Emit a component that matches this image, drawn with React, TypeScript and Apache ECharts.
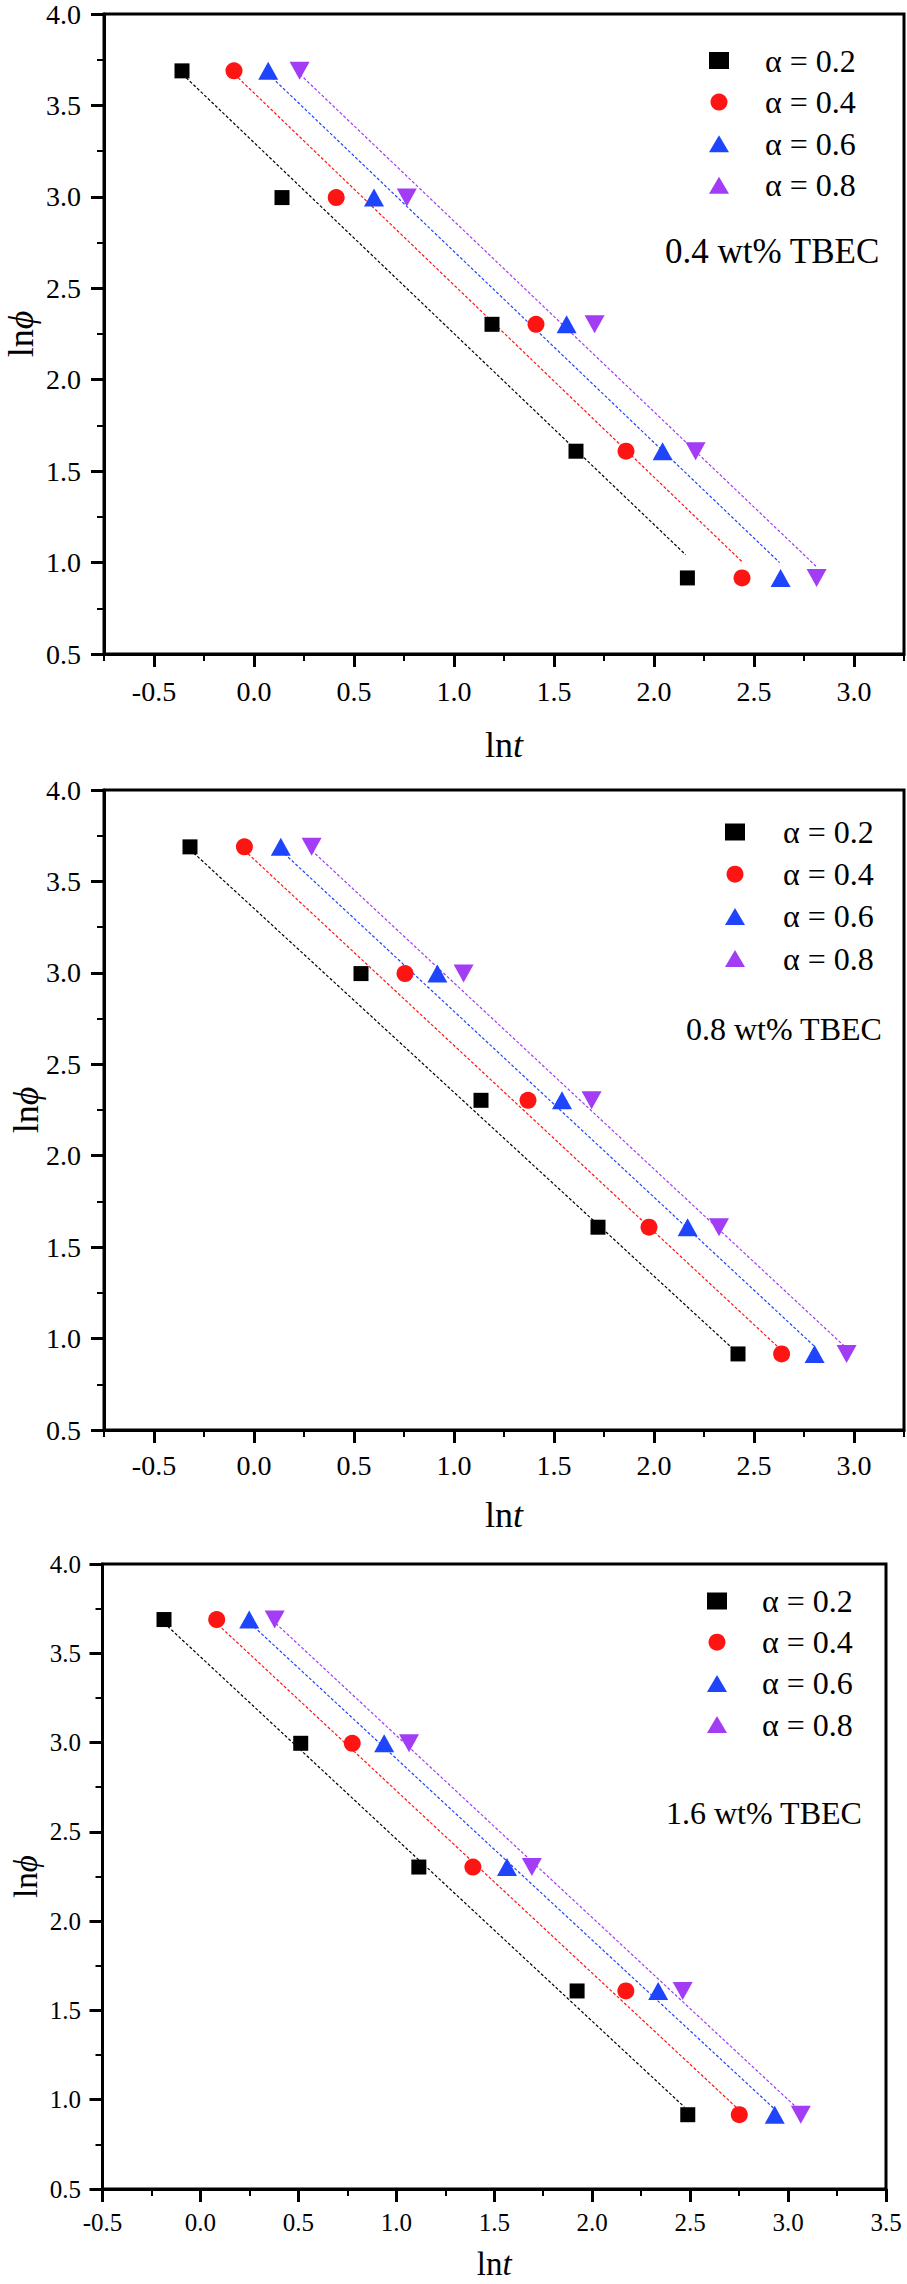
import React, { useEffect, useRef } from "react";
import * as echarts from "echarts";

const FONT = "Liberation Serif, Times New Roman, Times, serif";

// ln(phi) levels (heating rates 2.5, 5, 10, 20, 40)
const lnPhi = [3.689, 2.996, 2.303, 1.609, 0.916];
const seriesNames = ["α = 0.2", "α = 0.4", "α = 0.6", "α = 0.8"];
const panelTitles = ["0.4 wt% TBEC", "0.8 wt% TBEC", "1.6 wt% TBEC"];

// ln t values, one row per alpha (0.2, 0.4, 0.6, 0.8), matching lnPhi order
const lnT04 = [
  [-0.36, 0.14, 1.19, 1.61, 2.167],
  [-0.1, 0.411, 1.41, 1.86, 2.44],
  [0.071, 0.6, 1.563, 2.043, 2.633],
  [0.228, 0.764, 1.703, 2.208, 2.813],
];
const lnT08 = [
  [-0.32, 0.535, 1.135, 1.72, 2.42],
  [-0.048, 0.755, 1.37, 1.975, 2.638],
  [0.134, 0.917, 1.54, 2.168, 2.803],
  [0.288, 1.048, 1.688, 2.325, 2.963],
];
const lnT16 = [
  [-0.186, 0.512, 1.115, 1.923, 2.488],
  [0.083, 0.775, 1.391, 2.172, 2.751],
  [0.249, 0.938, 1.565, 2.337, 2.932],
  [0.379, 1.065, 1.692, 2.462, 3.065],
];

// dashed linear fits: [x0, y0, x1, y1]
const fit04 = [
  [-0.357, 3.67, 2.158, 1.043],
  [-0.097, 3.67, 2.438, 1.007],
  [0.073, 3.67, 2.628, 1.0],
  [0.23, 3.67, 2.81, 0.98],
];
const fit08 = [
  [-0.32, 3.674, 2.389, 0.95],
  [-0.048, 3.67, 2.62, 0.954],
  [0.134, 3.67, 2.8, 0.96],
  [0.288, 3.67, 2.97, 0.94],
];
const fit16 = [
  [-0.186, 3.67, 2.47, 0.96],
  [0.09, 3.66, 2.74, 0.953],
  [0.255, 3.667, 2.926, 0.953],
  [0.385, 3.667, 3.065, 0.934],
];

// tick labels of the x axes of the first two panels
const xTickLabels12 = [-0.5, 0, 0.5, 1, 1.5, 2, 2.5, 3];

const colors = ["#000000", "#ff1414", "#1f45fc", "#a23cf5"];
const symbols = ["rect", "circle", "triangle", "triangle"];
const symbolSizes: any[] = [15, 17, [20, 18], [20, 18]];
const symbolRotates = [0, 0, 0, 180];

const panels = [
  {
    lnT: lnT04, fit: fit04, title: panelTitles[0],
    grid: { left: 104, top: 14, width: 800, height: 640 },
    xMin: -0.75, xMax: 3.25, quarter: true,
    tickFont: 28, xLabelMargin: 23.4, yLabelMargin: 23,
    nameFont: 36, nameLH: 36, xNameGap: 73, yNameGap: 65,
    legLeft: 709, legTop: 44.5, legGap: 9.6, legPad: 31,
    annX: 665, annY: 251.7, annFont: 35,
  },
  {
    lnT: lnT08, fit: fit08, title: panelTitles[1],
    grid: { left: 104, top: 790, width: 800, height: 640 },
    xMin: -0.75, xMax: 3.25, quarter: true,
    tickFont: 28, xLabelMargin: 21.6, yLabelMargin: 23,
    nameFont: 36, nameLH: 36, xNameGap: 66.7, yNameGap: 60,
    legLeft: 725, legTop: 816, legGap: 10.2, legPad: 33,
    annX: 686, annY: 1029.4, annFont: 32,
  },
  {
    lnT: lnT16, fit: fit16, title: panelTitles[2],
    grid: { left: 102.5, top: 1564, width: 783.5, height: 625 },
    xMin: -0.5, xMax: 3.5, quarter: false,
    tickFont: 25, xLabelMargin: 20.5, yLabelMargin: 21.5,
    nameFont: 33, nameLH: 26, xNameGap: 61.5, yNameGap: 63.5,
    legLeft: 707, legTop: 1585, legGap: 9.2, legPad: 30,
    annX: 666, annY: 1812.7, annFont: 32,
  },
];

function buildOption() {
  const grid: any[] = [];
  const xAxis: any[] = [];
  const yAxis: any[] = [];
  const series: any[] = [];
  const legend: any[] = [];
  const graphic: any[] = [];

  panels.forEach((P, p) => {
    grid.push({
      ...P.grid,
      show: true,
      borderColor: "#000",
      borderWidth: 3,
      backgroundColor: "transparent",
      containLabel: false,
      outerBoundsMode: "none",
    });
    const labelStyle = {
      color: "#000",
      fontFamily: FONT,
      fontSize: P.tickFont,
      lineHeight: P.tickFont,
      formatter: (v: number) => v.toFixed(1),
    };
    const nameStyle = {
      color: "#000",
      fontFamily: FONT,
      fontSize: P.nameFont,
      lineHeight: P.nameLH,
      rich: {
        i: { fontStyle: "italic", fontFamily: FONT, fontSize: P.nameFont, lineHeight: P.nameLH, color: "#000" },
      },
    };
    const xIdx = xAxis.length;
    if (P.quarter) {
      xAxis.push({
        type: "value", gridIndex: p, position: "bottom",
        min: P.xMin, max: P.xMax, interval: 0.25,
        axisLine: { show: true, onZero: false, lineStyle: { color: "#000", width: 3 } },
        axisTick: { show: true, inside: false, length: 7, lineStyle: { color: "#000", width: 2 } },
        axisLabel: { ...labelStyle, margin: P.xLabelMargin, customValues: xTickLabels12 },
        splitLine: { show: false },
        name: "ln{i|t}", nameLocation: "middle", nameGap: P.xNameGap, nameTextStyle: nameStyle,
        nameMoveOverlap: false,
      });
      xAxis.push({
        type: "value", gridIndex: p, position: "bottom",
        min: P.xMin, max: P.xMax, interval: 0.25,
        axisLine: { show: false, onZero: false },
        axisTick: { show: true, inside: false, length: 13, customValues: xTickLabels12, lineStyle: { color: "#000", width: 3 } },
        axisLabel: { show: false },
        splitLine: { show: false },
      });
    } else {
      xAxis.push({
        type: "value", gridIndex: p, position: "bottom",
        min: P.xMin, max: P.xMax, interval: 0.5,
        axisLine: { show: true, onZero: false, lineStyle: { color: "#000", width: 3 } },
        axisTick: { show: true, inside: false, length: 13, lineStyle: { color: "#000", width: 3 } },
        minorTick: { show: true, splitNumber: 2, length: 7, lineStyle: { color: "#000", width: 2 } },
        axisLabel: { ...labelStyle, margin: P.xLabelMargin, showMinLabel: true, showMaxLabel: true },
        splitLine: { show: false },
        minorSplitLine: { show: false },
        name: "ln{i|t}", nameLocation: "middle", nameGap: P.xNameGap, nameTextStyle: nameStyle,
        nameMoveOverlap: false,
      });
    }
    yAxis.push({
      type: "value", gridIndex: p, position: "left",
      min: 0.5, max: 4.0, interval: 0.5,
      axisLine: { show: true, onZero: false, lineStyle: { color: "#000", width: 3 } },
      axisTick: { show: true, inside: false, length: 13, lineStyle: { color: "#000", width: 3 } },
      minorTick: { show: true, splitNumber: 2, length: 7, lineStyle: { color: "#000", width: 2 } },
      axisLabel: { ...labelStyle, margin: P.yLabelMargin, showMinLabel: true, showMaxLabel: true },
      splitLine: { show: false },
      minorSplitLine: { show: false },
      name: "ln{i|ϕ}", nameLocation: "middle", nameGap: P.yNameGap, nameTextStyle: nameStyle,
      nameMoveOverlap: false,
    });

    P.lnT.forEach((xs, a) => {
      const f = P.fit[a];
      series.push({
        type: "line",
        name: "fit " + p + "-" + a,
        xAxisIndex: xIdx, yAxisIndex: p,
        data: [[f[0], f[1]], [f[2], f[3]]],
        symbol: "none", showSymbol: false,
        lineStyle: { color: colors[a], width: 1.2, type: [3, 2] },
        z: 2, silent: true,
      });
      series.push({
        type: "scatter",
        name: seriesNames[a],
        xAxisIndex: xIdx, yAxisIndex: p,
        data: xs.map((x, i) => [x, lnPhi[i]]),
        symbol: symbols[a],
        symbolSize: symbolSizes[a],
        symbolRotate: symbolRotates[a],
        itemStyle: { color: colors[a], opacity: 1 },
        z: 3, silent: true,
      });
    });

    legend.push({
      orient: "vertical",
      left: P.legLeft, top: P.legTop,
      padding: 0,
      itemWidth: 20, itemHeight: 17, itemGap: P.legGap,
      symbolKeepAspect: true,
      selectedMode: false,
      data: seriesNames,
      textStyle: {
        color: "#000", fontFamily: FONT, fontSize: 32, lineHeight: 31,
        padding: [0, 0, 0, P.legPad],
      },
    });

    graphic.push({
      type: "text",
      x: P.annX, y: P.annY,
      silent: true,
      style: {
        text: P.title, fontSize: P.annFont, fontFamily: FONT, fill: "#000",
        align: "left", verticalAlign: "middle",
      },
    });
  });

  return {
    animation: false,
    backgroundColor: "#ffffff",
    textStyle: { fontFamily: FONT, color: "#000" },
    grid, xAxis, yAxis, series, legend, graphic,
  };
}

export default function App() {
  const ref = useRef<HTMLDivElement>(null);
  useEffect(() => {
    document.body.style.margin = "0";
    if (!ref.current) return;
    const chart = echarts.init(ref.current, undefined, { renderer: "svg" });
    chart.setOption(buildOption() as any);
    return () => chart.dispose();
  }, []);
  return <div ref={ref} style={{ width: 907, height: 2284, background: "#fff" }} />;
}
